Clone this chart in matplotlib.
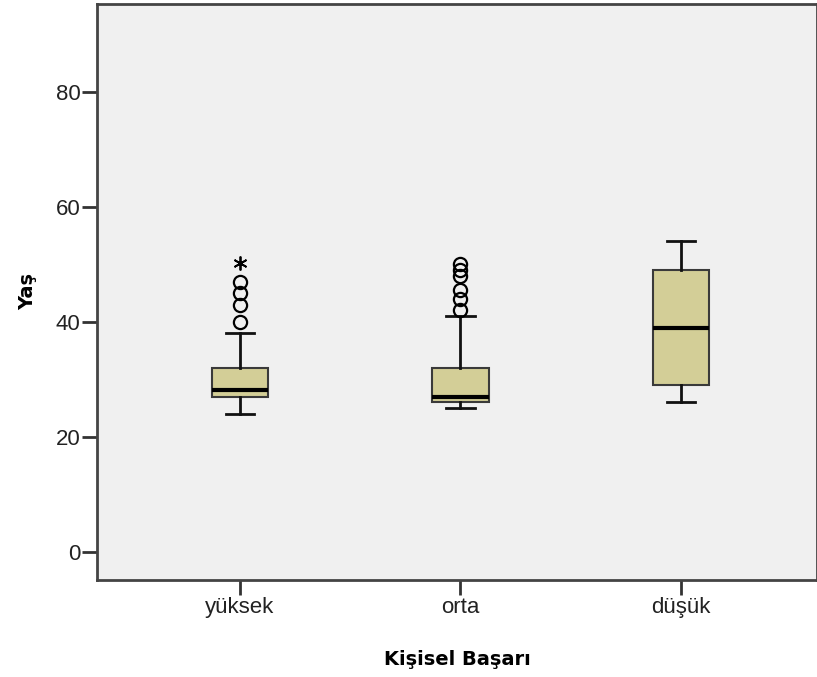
import matplotlib.pyplot as plt

plt.rcParams['font.family'] = ['Liberation Sans', 'DejaVu Sans']

# kategoriler ve kutu istatistikleri
gruplar = ["yüksek", "orta", "düşük"]
alt_biyik = [24, 25, 26]
q1 = [27, 26, 29]
medyan = [28.2, 27, 39]
q3 = [32, 32, 49]
ust_biyik = [38, 41, 54]
aykiri = [[40, 43, 45, 47], [42, 44, 45.5, 48, 49, 50], []]
uc_deger = [[50.3], [], []]

stats = []
for i in range(len(gruplar)):
    stats.append({"whislo": alt_biyik[i], "q1": q1[i], "med": medyan[i],
                  "q3": q3[i], "whishi": ust_biyik[i], "fliers": aykiri[i],
                  "label": gruplar[i]})

fig = plt.figure(figsize=(8.17, 6.77), dpi=100)
ax = fig.add_axes([97/817, 1-580/677, 1-97/817, (580-4)/677])
ax.set_facecolor("#f0f0f0")

ax.bxp(stats, positions=[1, 2, 3], widths=0.255, patch_artist=True,
       boxprops=dict(facecolor="#d3ce97", edgecolor="#3a3a3a", linewidth=1.5),
       medianprops=dict(color="black", linewidth=3),
       whiskerprops=dict(color="#111111", linewidth=2),
       capprops=dict(color="#111111", linewidth=2),
       flierprops=dict(marker="o", markersize=9.5, markerfacecolor="none",
                       markeredgecolor="black", markeredgewidth=1.6))

# uç değerler (yıldız)
for i in range(len(gruplar)):
    if uc_deger[i]:
        ax.plot([i + 1] * len(uc_deger[i]), uc_deger[i], linestyle="none",
                marker=(6, 2, 0), markersize=10, color="black", markeredgewidth=1.3)

ax.set_xlim(0.3515, 3.617)
ax.set_ylim(-4.87, 95.3)
ax.set_yticks([0, 20, 40, 60, 80])
ax.set_xticks([1, 2, 3])
ax.set_xticklabels(gruplar)

for s in ["left", "bottom", "top", "right"]:
    ax.spines[s].set_color("#444444")
    ax.spines[s].set_linewidth(2)

ax.tick_params(axis="both", direction="out", length=10.5, width=2, color="#333333",
               labelsize=16, labelcolor="#222222", pad=1.5)

ax.set_xlabel("Kişisel Başarı", fontsize=14, fontweight="bold", labelpad=23,
              family=["DejaVu Sans"])
ax.set_ylabel("Yaş", fontsize=14, fontweight="bold", labelpad=13,
              family=["DejaVu Sans"])

fig.savefig("out.png", dpi=100, facecolor="white")
